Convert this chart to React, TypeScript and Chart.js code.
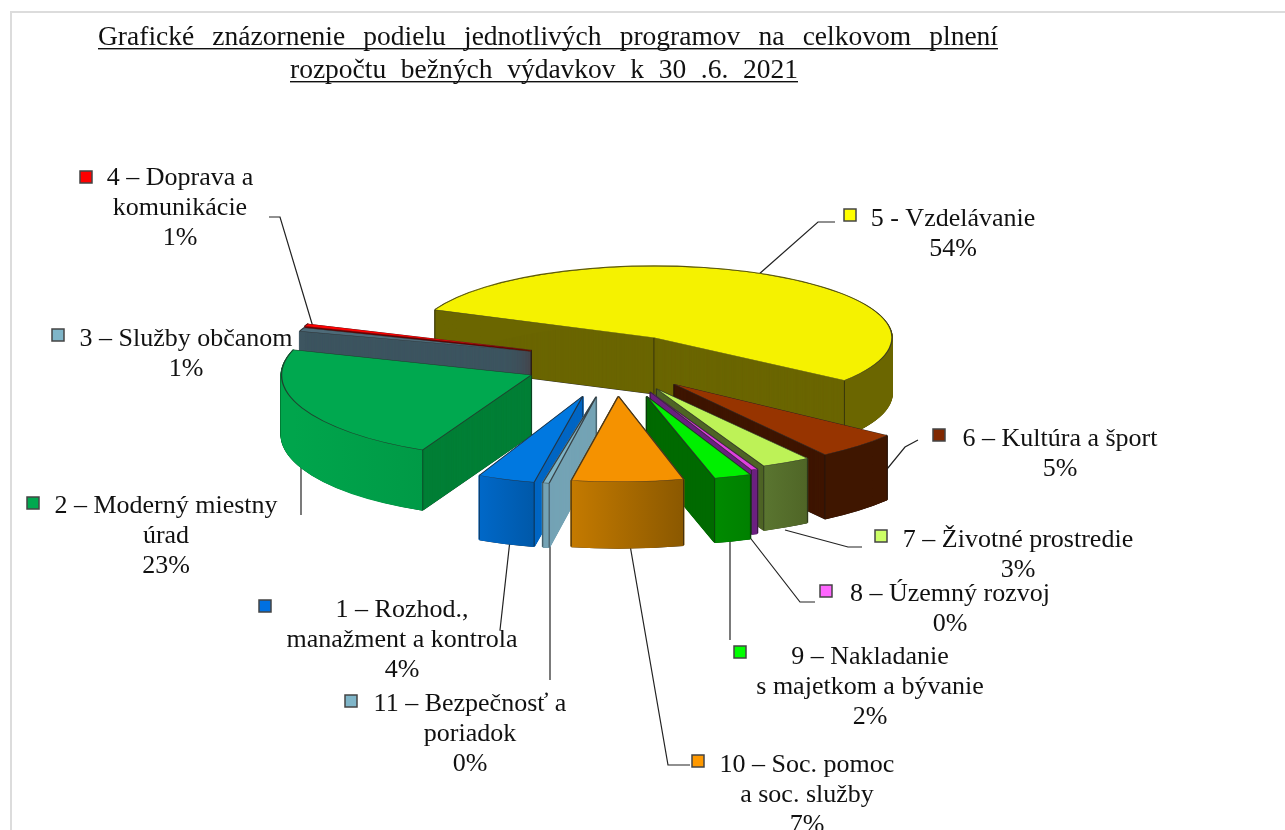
import React, { useEffect, useRef } from "react";
import { Chart, registerables } from "chart.js";

Chart.register(...registerables);

const titleLines = [
  "Grafické znázornenie podielu jednotlivých programov na celkovom plnení",
  "rozpočtu bežných výdavkov k 30 .6. 2021",
];
const categories = [
  "5 - Vzdelávanie",
  "6 – Kultúra a šport",
  "7 – Životné prostredie",
  "8 – Územný rozvoj",
  "9 – Nakladanie|s majetkom a bývanie",
  "10 – Soc. pomoc|a soc. služby",
  "11 – Bezpečnosť a|poriadok",
  "1 – Rozhod.,|manažment a kontrola",
  "2 – Moderný miestny|úrad",
  "3 – Služby občanom",
  "4 – Doprava a|komunikácie",
];
const values = [54.0, 5.2, 3.0, 0.4, 2.2, 6.9, 0.4, 3.9, 22.8, 0.9, 0.6];
const percentLabels = ["54%", "5%", "3%", "0%", "2%", "7%", "0%", "4%", "23%", "1%", "1%"];

// styles, slice by slice
const topColors = ["#f5f200", "#973400", "#bdf257", "#e040e0", "#00f000", "#f59200", "#7fb5c8", "#0078e0", "#00a84f", "#4d6a78", "#ff0000"];
const legendColors = ["#ffff00", "#802800", "#ccff66", "#ff66ff", "#00ff00", "#ff9900", "#7fb5c8", "#0070e0", "#00a84f", "#7fb5c8", "#ff0000"];
const sideColors = ["#6b6600", "#3f1600", "#4f6526", "#6b2080", "#006a00", "#8a5800", "#74a3b5", "#0066c4", "#007f36", "#3d5560", "#6a0000"];
const outerFrom = ["#6b6600", "#3f1600", "#5a7530", "#6b2080", "#008a00", "#c47a00", "#74a3b5", "#0068c8", "#00a54c", "#3d5560", "#6a0000"];
const outerTo = ["#6b6600", "#3f1600", "#4f6526", "#6b2080", "#008000", "#8a5800", "#74a3b5", "#0058a8", "#009a46", "#3d5560", "#6a0000"];
const explode = [78, 85, 85, 90, 100, 95, 98, 100, 91, 89, 90];
const scaleX = [1, 1.12, 1.12, 1.12, 1.15, 1.1, 1.1, 1.0, 1.05, 1.02, 1.02];
const scaleY = [0.3, 0.36, 0.355, 0.355, 0.356, 0.36, 0.37, 0.37, 0.35, 0.28, 0.28];
const depth = [56, 64, 64, 64, 64, 66, 64, 64, 60, 60, 60];
const drawOrder = [0, 10, 9, 8, 1, 2, 3, 7, 6, 4, 5];
const EXPLODE_Y = 0.36;

// text layout: [centre x, first line y, marker x, marker y]
const labelLayout = [
  [953, 219, 850, 215],
  [1060, 439, 939, 435],
  [1018, 540, 881, 536],
  [950, 594, 826, 591],
  [870, 657, 740, 652],
  [807, 765, 698, 761],
  [470, 704, 351, 701],
  [402, 610, 265, 606],
  [166, 506, 33, 503],
  [186, 339, 58, 335],
  [180, 178, 86, 177],
];
const leaderLines = [
  [[269, 217], [280, 217], [313, 327]],
  [[835, 222], [818, 222], [758, 275]],
  [[918, 440], [905, 447], [856, 507]],
  [[862, 547], [848, 547], [785, 530]],
  [[815, 602], [800, 602], [748, 535]],
  [[730, 640], [730, 540]],
  [[500, 630], [510, 540]],
  [[550, 680], [550, 540]],
  [[690, 765], [668, 765], [630, 545]],
  [[301, 515], [301, 465]],
];
const FONT = '"Liberation Serif", "Times New Roman", serif';

const piePlugin = {
  id: "exploded3d",
  beforeDatasetsDraw(chart: any) {
    const ctx: CanvasRenderingContext2D = chart.ctx;
    const meta = chart.getDatasetMeta(0);

    // leader lines lie under the slices
    ctx.save();
    ctx.strokeStyle = "#222";
    ctx.lineWidth = 1.2;
    leaderLines.forEach((pts) => {
      ctx.beginPath();
      pts.forEach((p, i) => (i ? ctx.lineTo(p[0], p[1]) : ctx.moveTo(p[0], p[1])));
      ctx.stroke();
    });
    ctx.restore();

    const place = (arc: any, i: number, d: number) => {
      const mid = (arc.startAngle + arc.endAngle) / 2;
      ctx.translate(arc.x + Math.cos(mid) * explode[i], arc.y + Math.sin(mid) * explode[i] * EXPLODE_Y + d);
      ctx.scale(scaleX[i], scaleY[i]);
      ctx.translate(-arc.x, -arc.y);
    };
    const paint = (arc: any, color: string, bw: number, border: string) => {
      const o = arc.options;
      arc.options = { ...o, backgroundColor: color, borderWidth: bw, borderColor: border };
      arc.draw(ctx);
      arc.options = o;
    };
    const corner = (arc: any, i: number, a: number, r: number) => {
      const mid = (arc.startAngle + arc.endAngle) / 2;
      return [
        arc.x + Math.cos(mid) * explode[i] + Math.cos(a) * r * scaleX[i],
        arc.y + Math.sin(mid) * explode[i] * EXPLODE_Y + Math.sin(a) * r * scaleY[i],
      ];
    };

    drawOrder.forEach((i) => {
      const arc = meta.data[i];
      const D = depth[i];
      const R = arc.outerRadius;
      // bottom outline
      ctx.save();
      place(arc, i, D + 0.8);
      paint(arc, "#2a2a2a", 0, "#000");
      ctx.restore();
      // side walls
      for (let d = D; d >= 0.5; d -= 0.5) {
        ctx.save();
        place(arc, i, d);
        paint(arc, sideColors[i], 2, sideColors[i]);
        ctx.restore();
      }
      // outer curved wall, shaded across its width
      const a = corner(arc, i, arc.startAngle, R);
      const b = corner(arc, i, arc.endAngle, R);
      const grad = ctx.createLinearGradient(Math.min(a[0], b[0]), 0, Math.max(a[0], b[0]) + 1, 0);
      grad.addColorStop(0, outerFrom[i]);
      grad.addColorStop(1, outerTo[i]);
      for (let d = D; d >= 0; d -= 1) {
        ctx.save();
        place(arc, i, d);
        ctx.beginPath();
        ctx.arc(arc.x, arc.y, R - 0.5, arc.startAngle, arc.endAngle);
        ctx.restore();
        ctx.save();
        ctx.strokeStyle = grad;
        ctx.lineWidth = 2;
        ctx.stroke();
        ctx.restore();
      }
      // vertical edges, only where the corner faces the viewer
      ctx.save();
      ctx.strokeStyle = "rgba(20,20,20,0.75)";
      ctx.lineWidth = 0.8;
      const mid = (arc.startAngle + arc.endAngle) / 2;
      const apex = [arc.x + Math.cos(mid) * explode[i], arc.y + Math.sin(mid) * explode[i] * EXPLODE_Y];
      const edges = [apex];
      if (Math.sin(arc.startAngle) > 0 || i === 0) edges.push(a);
      if (Math.sin(arc.endAngle) > 0) edges.push(b);
      edges.forEach((p) => {
        ctx.beginPath();
        ctx.moveTo(p[0], p[1]);
        ctx.lineTo(p[0], p[1] + D);
        ctx.stroke();
      });
      ctx.restore();
      // top face
      ctx.save();
      place(arc, i, 0);
      paint(arc, topColors[i], 1.3, "rgba(40,40,40,0.8)");
      ctx.restore();
    });
    return;
  },
  beforeDatasetDraw() {
    return false; // the slices are painted by beforeDatasetsDraw
  },
  beforeDraw(chart: any) {
    const ctx: CanvasRenderingContext2D = chart.ctx;
    ctx.save();
    ctx.fillStyle = "#fff";
    ctx.fillRect(0, 0, chart.width, chart.height);
    ctx.fillStyle = "#dcdcdc";
    ctx.fillRect(10, 11, chart.width - 10, 2);
    ctx.fillRect(10, 11, 2, chart.height - 11);
    ctx.restore();
  },
  afterDraw(chart: any) {
    const ctx: CanvasRenderingContext2D & { wordSpacing?: string } = chart.ctx;
    ctx.save();
    ctx.fillStyle = "#111";
    ctx.textBaseline = "alphabetic";
    ctx.textAlign = "left";
    ctx.font = `27.5px ${FONT}`;
    const titleBox = [
      [98, 998, 45, 48],
      [290, 798, 78, 81],
    ];
    titleLines.forEach((line, n) => {
      const [x0, x1, y, u] = titleBox[n];
      ctx.wordSpacing = "0px";
      const natural = ctx.measureText(line).width;
      const gaps = line.split(" ").length - 1;
      ctx.wordSpacing = `${(x1 - x0 - natural) / gaps}px`;
      ctx.fillText(line, x0, y);
      ctx.fillRect(x0, u, x1 - x0, 1.4);
    });
    ctx.wordSpacing = "0px";
    ctx.font = `26px ${FONT}`;
    ctx.textAlign = "center";
    ctx.textBaseline = "middle";
    categories.forEach((cat, i) => {
      const [cx, y, mx, my] = labelLayout[i];
      const lines = [...cat.split("|"), percentLabels[i]];
      lines.forEach((t, n) => ctx.fillText(t, cx, y + n * 30));
      ctx.save();
      ctx.fillStyle = legendColors[i];
      ctx.strokeStyle = "#444";
      ctx.lineWidth = 1.5;
      ctx.fillRect(mx - 6, my - 6, 12, 12);
      ctx.strokeRect(mx - 6, my - 6, 12, 12);
      ctx.restore();
    });
    ctx.restore();
  },
};

export default function App() {
  const ref = useRef<HTMLCanvasElement | null>(null);
  useEffect(() => {
    document.body.style.margin = "0";
    document.body.style.overflow = "hidden";
    const chart = new Chart(ref.current as HTMLCanvasElement, {
      type: "pie",
      data: {
        labels: categories.map((c) => c.replace("|", " ")),
        datasets: [{ data: values, backgroundColor: topColors, borderWidth: 0 }],
      },
      options: {
        responsive: false,
        animation: false,
        events: [],
        rotation: 293,
        radius: 238,
        layout: { padding: { left: 0, right: 55, top: 0, bottom: 106 } },
        plugins: { legend: { display: false }, title: { display: false }, tooltip: { enabled: false } },
      },
      plugins: [piePlugin as any],
    } as any);
    return () => chart.destroy();
  }, []);
  return (
    <canvas ref={ref} width={1285} height={830} style={{ position: "absolute", left: 0, top: 0, display: "block" }} />
  );
}
